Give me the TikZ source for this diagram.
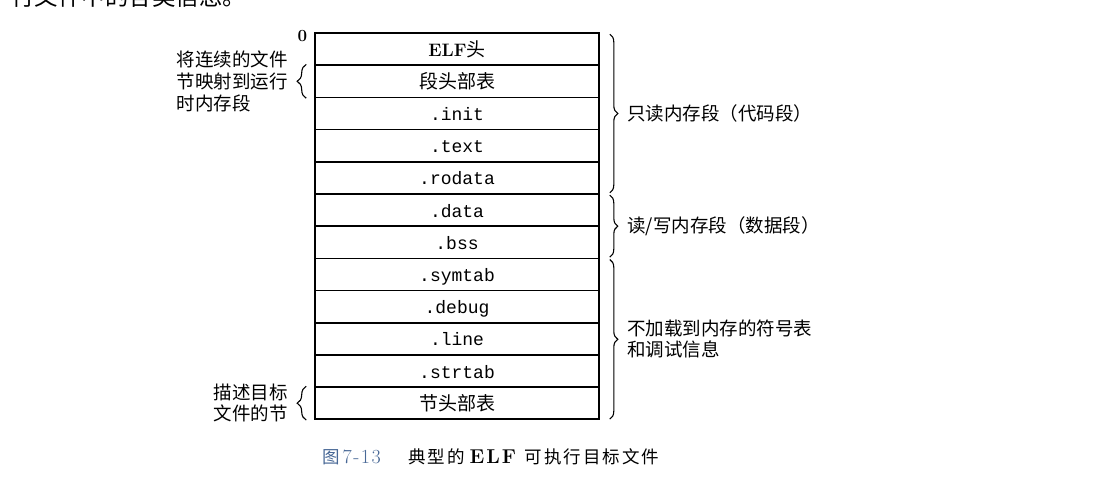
\documentclass[tikz,border=0pt]{standalone}
\usepackage{fontspec}
\usetikzlibrary{decorations.pathreplacing,positioning}
\newfontfamily\cjk{Noto Sans CJK SC}
\newfontfamily\capcjk[LetterSpace=11]{Noto Sans CJK SC}
\newfontfamily\mono{Liberation Mono}
\definecolor{capblue}{RGB}{72,104,150}

\begin{document}
\begin{tikzpicture}[x=1pt, y=-1pt,
  sec/.style={draw, line width=1.6pt, minimum width=284pt, minimum height=32.2pt,
    inner sep=0pt, text height=16pt, text depth=2pt, font=\mono\fontsize{18}{20}\selectfont},
  rbrace/.style={decorate, decoration={brace, amplitude=8pt}, line width=1.1pt},
  lbrace/.style={decorate, decoration={brace, amplitude=9pt}, line width=1.1pt},
  lab/.style={align=left, inner sep=0pt, font=\cjk\fontsize{18.5}{22}\selectfont}]
  \useasboundingbox[fill=white] (0,0) rectangle (1099,479);
  % 页面上方被裁掉的一行正文
  \node[anchor=base west, inner sep=0pt, font=\cjk\fontsize{23.5}{26}\selectfont] (body) at (11,5.5) {行文件中的各类信息。};
  \foreach \i/\txt in {1/{{\rmfamily\bfseries\fontsize{18}{20}\selectfont ELF}{\cjk\fontsize{19}{20}\selectfont 头}},
      2/{{\cjk\fontsize{19}{20}\selectfont 段头部表}}, 3/.init, 4/.text, 5/.rodata, 6/.data, 7/.bss,
      8/.symtab, 9/.debug, 10/.line, 11/.strtab, 12/{{\cjk\fontsize{19}{20}\selectfont 节头部表}}}
    \node[sec] (r\i) at (457,{33+32.19*(\i-0.5)}) {\txt};
  \node[font=\bfseries\fontsize{17}{20}\selectfont, inner sep=0pt] (zero) at (302.5,36) {0};
  \draw[rbrace] ([xshift=10pt,yshift=-2pt]r1.north east) -- ([xshift=10pt,yshift=2pt]r5.south east)
    node[lab, midway, anchor=west, xshift=17pt] (ro) {只读内存段（代码段）};
  \draw[rbrace] ([xshift=10pt,yshift=-2pt]r6.north east) -- ([xshift=10pt,yshift=2pt]r7.south east)
    node[lab, midway, anchor=west, xshift=17pt] (rw) {读/写内存段（数据段）};
  \draw[rbrace] ([xshift=10pt,yshift=-2pt]r8.north east) -- ([xshift=10pt,yshift=1pt]r12.south east)
    node[lab, midway, anchor=west, xshift=17pt, font=\cjk\fontsize{18.5}{21}\selectfont] (nl) {不加载到内存的符号表\\和调试信息};
  \draw[lbrace] ([xshift=-8pt]r2.south west) -- ([xshift=-8pt]r2.north west)
    node[lab, midway, anchor=east, xshift=-18pt] (map) {将连续的文件\\节映射到运行\\时内存段};
  \draw[lbrace] ([xshift=-8pt]r12.south west) -- ([xshift=-8pt]r12.north west)
    node[lab, midway, anchor=east, xshift=-18pt, font=\cjk\fontsize{18.5}{21}\selectfont] (desc) {描述目标\\文件的节};
  \node[anchor=base west, inner sep=0pt, text=capblue] (fignum) at (322,463)
    {{\capcjk\fontsize{17.5}{20}\selectfont 图}\hspace{3pt}{\fontsize{20}{22}\selectfont 7\kern1.5pt-\kern1.5pt1\kern1.5pt3}};
  \node[anchor=base west, inner sep=0pt] (figcap) at (408,463)
    {{\capcjk\fontsize{17.5}{20}\selectfont 典型的}\hspace{5pt}{\bfseries\fontsize{20}{22}\selectfont E\kern2pt L\kern2pt F}\hspace{9pt}{\capcjk\fontsize{17.5}{20}\selectfont 可执行目标文件}};
\end{tikzpicture}
\end{document}
